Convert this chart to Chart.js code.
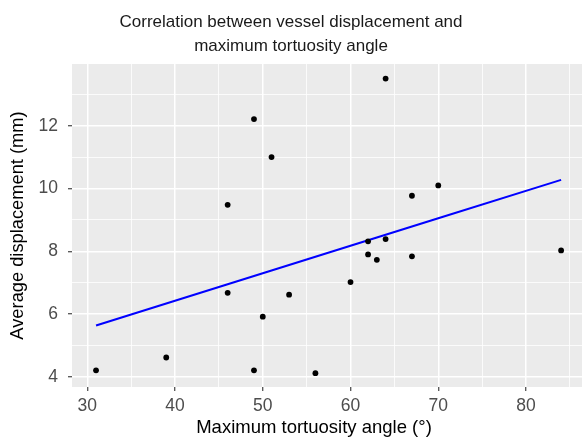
<!DOCTYPE html>
<html>
<head>
<meta charset="utf-8">
<script src="https://cdn.jsdelivr.net/npm/chart.js@4/dist/chart.umd.min.js"></script>
<style>
  html, body { margin: 0; padding: 0; background: #ffffff; }
  #wrap { width: 582px; height: 440px; }
</style>
</head>
<body>
<div id="wrap"><canvas id="c" width="582" height="440"></canvas></div>
<script>
// ---- Data ----
const tortuosityAngle = [31, 39, 46, 49, 50, 53, 56, 49, 51, 46, 64, 67, 70, 60, 62, 62, 63, 64, 67, 84];
const avgDisplacement = [4.21, 4.62, 6.68, 4.21, 5.92, 6.62, 4.12, 12.21, 11.0, 9.48, 13.5, 9.77, 10.1, 7.02, 8.32, 7.9, 7.73, 8.39, 7.84, 8.03];

const xTickLabels = [30, 40, 50, 60, 70, 80];
const yTickLabels = [4, 6, 8, 10, 12];
const xMinorTicks = [35, 45, 55, 65, 75, 85];
const yMinorTicks = [5, 7, 9, 11, 13];

const titleLines = ['Correlation between vessel displacement and', 'maximum tortuosity angle'];
const xTitle = 'Maximum tortuosity angle (°)';
const yTitle = 'Average displacement (mm)';

// ---- Linear fit (least squares) computed from the data ----
const n = tortuosityAngle.length;
const mx = tortuosityAngle.reduce((a, b) => a + b, 0) / n;
const my = avgDisplacement.reduce((a, b) => a + b, 0) / n;
let sxy = 0, sxx = 0;
for (let i = 0; i < n; i++) {
  sxy += (tortuosityAngle[i] - mx) * (avgDisplacement[i] - my);
  sxx += (tortuosityAngle[i] - mx) ** 2;
}
const slope = sxy / sxx;
const intercept = my - slope * mx;
const xsSorted = [...tortuosityAngle].sort((a, b) => a - b);
const fitPoints = xsSorted.map(x => ({ x: x, y: intercept + slope * x }));
const scatterPoints = tortuosityAngle.map((x, i) => ({ x: x, y: avgDisplacement[i] }));

const FONT = "'Liberation Sans', Arial, Helvetica, sans-serif";

// Let the panel run to the right edge of the canvas, as in the reference
const stretchRight = {
  id: 'stretchRight',
  afterLayout(chart) {
    const a = chart.chartArea;
    const W = chart.width;
    if (a.right < W) {
      const xs = chart.scales.x;
      a.right = W;
      a.width = a.right - a.left;
      xs.right = W;
      xs.width = xs.right - xs.left;
      xs.configure();
      xs._gridLineItems = null;
      xs._labelItems = null;
      chart.scales.y._gridLineItems = null;
    }
  }
};

const panelBg = {
  id: 'panelBg',
  beforeDraw(chart) {
    const { ctx, chartArea: a } = chart;
    ctx.save();
    ctx.fillStyle = '#EBEBEB';
    ctx.fillRect(a.left, a.top, a.right - a.left, a.bottom - a.top);
    ctx.restore();
  }
};

// x-axis title drawn as canvas text, centred slightly left of the panel centre as in the reference
const xTitlePlugin = {
  id: 'xTitlePlugin',
  afterDraw(chart) {
    const { ctx, chartArea: a } = chart;
    ctx.save();
    ctx.font = "18.5px " + FONT;
    ctx.fillStyle = '#000000';
    ctx.textAlign = 'center';
    ctx.textBaseline = 'middle';
    ctx.fillText(xTitle, (a.left + a.right) / 2 - 13, 428);
    ctx.restore();
  }
};

function gridFor(majors) {
  return {
    drawOnChartArea: true,
    drawTicks: true,
    tickLength: 4,
    color: (c) => '#ffffff',
    lineWidth: (c) => (c.tick && majors.includes(c.tick.value)) ? 1.5 : 0.8,
    tickColor: (c) => (c.tick && majors.includes(c.tick.value)) ? '#333333' : 'rgba(0,0,0,0)',
    tickWidth: 1.1
  };
}

new Chart(document.getElementById('c'), {
  type: 'scatter',
  data: {
    datasets: [
      { type: 'line', data: fitPoints, borderColor: '#0000FF', borderWidth: 2, pointRadius: 0, fill: false, tension: 0, order: 2 },
      { type: 'scatter', data: scatterPoints, backgroundColor: '#000000', borderColor: '#000000', borderWidth: 0, pointRadius: 2.9, order: 1 }
    ]
  },
  options: {
    responsive: false,
    animation: false,
    devicePixelRatio: 1,
    layout: { padding: { left: 0, right: 0, top: 0, bottom: 0 } },
    plugins: {
      legend: { display: false },
      tooltip: { enabled: false },
      title: {
        display: true, text: titleLines, color: '#1a1a1a',
        font: { family: FONT, size: 17, weight: 'normal', lineHeight: 24 / 17 },
        padding: { top: 10, bottom: 6 }
      }
    },
    scales: {
      x: {
        type: 'linear', min: 28.26, max: 86.38,
        border: { display: false },
        grid: gridFor(xTickLabels),
        afterBuildTicks(scale) {
          scale.ticks = [...xTickLabels, ...xMinorTicks].sort((a, b) => a - b).map(v => ({ value: v }));
        },
        afterFit(scale) { scale.height = 53; scale.paddingLeft = 0; scale.paddingRight = 0; },
        ticks: {
          autoSkip: false, maxRotation: 0, color: '#4D4D4D', padding: 5,
          font: { family: FONT, size: 17.5 },
          callback: (v) => xTickLabels.includes(v) ? String(v) : ''
        },
        title: { display: false }
      },
      y: {
        type: 'linear', min: 3.68, max: 13.965,
        border: { display: false },
        grid: gridFor(yTickLabels),
        afterBuildTicks(scale) {
          scale.ticks = [...yTickLabels, ...yMinorTicks].sort((a, b) => a - b).map(v => ({ value: v }));
        },
        afterFit(scale) { scale.width = 72; scale.paddingTop = 0; scale.paddingBottom = 0; },
        ticks: {
          autoSkip: false, color: '#4D4D4D', padding: 10,
          font: { family: FONT, size: 17.5 },
          callback: (v) => yTickLabels.includes(v) ? String(v) : ''
        },
        title: {
          display: true, text: yTitle, color: '#000000',
          font: { family: FONT, size: 18.3, lineHeight: 1.2 },
          padding: { top: 7, bottom: 0 }
        }
      }
    }
  },
  plugins: [stretchRight, panelBg, xTitlePlugin]
});
</script>
</body>
</html>
